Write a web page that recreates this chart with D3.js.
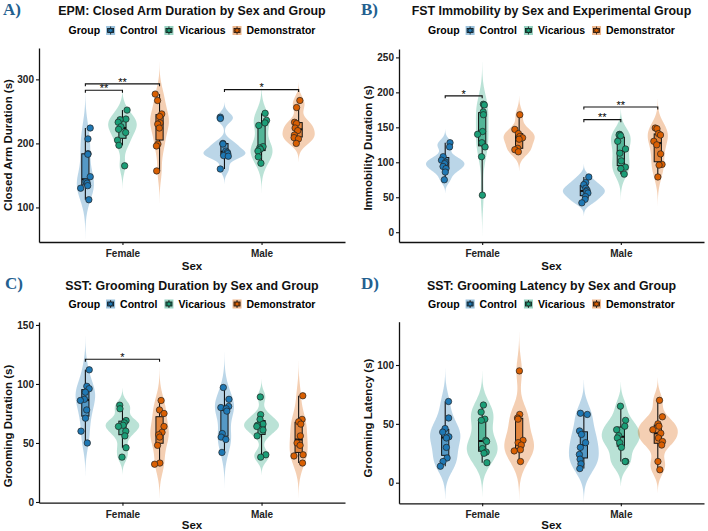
<!DOCTYPE html>
<html><head><meta charset="utf-8">
<script src="https://cdn.jsdelivr.net/npm/d3@7"></script>
<style>
  body { margin: 0; background: #fff; }
  text { font-family: "Liberation Sans", Arial, sans-serif; font-weight: bold; }
</style>
</head>
<body>
<svg id="fig" width="708" height="531"></svg>
<script>
const sexes = ["Female", "Male"];
const groups = ["Control", "Vicarious", "Demonstrator"];
const groupColors = ["#1f78b4", "#1b9e77", "#d95f02"];

// each list: Control, Vicarious, Demonstrator
// A) EPM closed arm duration (s)
const epmFemale = [
  [224, 207, 184, 183, 148, 140, 138, 134, 130, 112],
  [252, 238, 237, 233, 226, 222, 217, 205, 197, 165],
  [277, 267, 246, 242, 232, 230, 224, 199, 196, 157]
];
const epmMale = [
  [241, 239, 200, 199, 188, 186, 184, 181, 180, 160],
  [247, 236, 232, 228, 195, 193, 191, 188, 179, 169],
  [267, 256, 233, 231, 224, 220, 213, 209, 207, 200]
];
// B) FST immobility (s)
const fstFemale = [
  [128, 122, 108, 103, 100, 98, 94, 91, 86, 75],
  [183, 182, 172, 168, 144, 140, 128, 122, 108, 53],
  [168, 147, 141, 137, 135, 133, 120, 118, 115]
];
const fstMale = [
  [79, 71, 68, 63, 60, 58, 56, 51, 47, 42],
  [140, 139, 138, 130, 119, 113, 102, 93, 91, 83],
  [149, 148, 141, 139, 130, 125, 112, 97, 96, 79]
];
// C) SST grooming duration (s)
const groomDurFemale = [
  [112, 98, 96, 93, 87, 86, 78, 71, 60, 50],
  [82, 79, 69, 67, 65, 64, 60, 56, 46, 38],
  [86, 78, 75, 64, 59, 57, 55, 48, 33, 32]
];
const groomDurMale = [
  [97, 87, 81, 80, 79, 77, 58, 55, 53, 42],
  [89, 74, 70, 66, 65, 64, 61, 56, 40, 38],
  [90, 70, 68, 66, 56, 50, 48, 40, 39, 33]
];
// D) SST grooming latency (s)
const groomLatFemale = [
  [69, 55, 46, 43, 39, 38, 30, 21, 18, 14],
  [66, 60, 54, 53, 36, 35, 29, 26, 25, 17],
  [95, 58, 55, 54, 36, 34, 32, 28, 27, 18]
];
const groomLatMale = [
  [59, 58, 44, 41, 34, 30, 24, 20, 16, 12],
  [65, 53, 48, 45, 40, 38, 34, 30, 18, 18],
  [70, 56, 50, 48, 45, 42, 38, 35, 32, 18, 11]
];

// significance brackets: sex, group from, group to, height, label
const epmSig = [["Female", 0, 1, 283, "**"], ["Female", 0, 2, 293, "**"], ["Male", 0, 2, 284, "*"]];
const fstSig = [["Female", 0, 1, 195, "*"], ["Male", 0, 1, 161, "**"], ["Male", 0, 2, 179, "**"]];
const groomDurSig = [["Female", 0, 2, 121, "*"]];
const groomLatSig = [];

const panels = [
  { tag: "A)", title: "EPM: Closed Arm Duration by Sex and Group", ylab: "Closed Arm Duration (s)",
    data: [epmFemale, epmMale], sig: epmSig, yDomain: [46, 349], yTicks: [100, 200, 300],
    left: 39, right: 345, top: 48, bottom: 242, vw: 42,
    tagX: 3, tagY: 15, titleY: 15, legY: 34, tickY: 257, sexY: 270, ylabX: 12, ylabY: 145 },
  { tag: "B)", title: "FST Immobility by Sex and Experimental Group", ylab: "Immobility Duration (s)",
    data: [fstFemale, fstMale], sig: fstSig, yDomain: [-14, 262], yTicks: [0, 50, 100, 150, 200, 250],
    left: 399, right: 704, top: 49, bottom: 242, vw: 42,
    tagX: 361, tagY: 15, titleY: 15, legY: 34, tickY: 257, sexY: 270, ylabX: 372, ylabY: 148 },
  { tag: "C)", title: "SST: Grooming Duration by Sex and Group", ylab: "Grooming Duration (s)",
    data: [groomDurFemale, groomDurMale], sig: groomDurSig, yDomain: [-0.6, 152.5], yTicks: [0, 50, 100, 150],
    left: 39, right: 345, top: 322, bottom: 502.7, vw: 35,
    tagX: 5, tagY: 289, titleY: 290, legY: 307.5, tickY: 518, sexY: 529, ylabX: 12, ylabY: 426 },
  { tag: "D)", title: "SST: Grooming Latency by Sex and Group", ylab: "Grooming Latency (s)",
    data: [groomLatFemale, groomLatMale], sig: groomLatSig, yDomain: [-17.5, 136.8], yTicks: [0, 50, 100],
    left: 399, right: 704, top: 321.7, bottom: 503.3, vw: 40,
    tagX: 361, tagY: 289, titleY: 290, legY: 307.5, tickY: 518, sexY: 529, ylabX: 372, ylabY: 418 }
];

const svg = d3.select("#fig");
const jitter = d3.randomUniform.source(d3.randomLcg(0.31))(-1, 1);

// gaussian kernel density, bw.nrd0, tails run 3 bandwidths past the data
function kde(values) {
  const s = values.slice().sort(d3.ascending);
  const n = s.length;
  const sd = d3.deviation(s);
  const iqr = d3.quantileSorted(s, 0.75) - d3.quantileSorted(s, 0.25);
  const bw = 0.9 * (Math.min(sd, iqr / 1.34) || sd || 1) * Math.pow(n, -0.2);
  const lo = s[0] - 3 * bw, hi = s[n - 1] + 3 * bw;
  return d3.range(0, 161).map(i => {
    const v = lo + i * (hi - lo) / 160;
    return [v, d3.mean(s, d => Math.exp(-0.5 * ((v - d) / bw) ** 2)) / (bw * Math.sqrt(2 * Math.PI))];
  });
}

function boxStats(values) {
  const s = values.slice().sort(d3.ascending);
  const q1 = d3.quantileSorted(s, 0.25), med = d3.quantileSorted(s, 0.5), q3 = d3.quantileSorted(s, 0.75);
  const iqr = q3 - q1;
  const lo = d3.min(s.filter(v => v >= q1 - 1.5 * iqr));
  const hi = d3.max(s.filter(v => v <= q3 + 1.5 * iqr));
  return { q1, med, q3, lo, hi };
}

function drawLegend(p) {
  const lg = svg.append("g");
  let cx = 0;
  lg.append("text").attr("x", 0).attr("y", 0).style("font-size", "10.5px").text("Group");
  cx = lg.select("text").node().getComputedTextLength() + 6;
  groups.forEach((gname, i) => {
    const k = lg.append("g").attr("transform", `translate(${cx},-8)`);
    k.append("rect").attr("width", 9).attr("height", 9)
        .attr("fill", groupColors[i]).attr("fill-opacity", 0.45);
    k.append("rect").attr("x", 1.5).attr("y", 2.5).attr("width", 6).attr("height", 4)
        .attr("fill", groupColors[i]).attr("stroke", "#111").attr("stroke-width", 0.8);
    k.append("line").attr("x1", 4.5).attr("x2", 4.5).attr("y1", 0.5).attr("y2", 8.5)
        .attr("stroke", "#111").attr("stroke-width", 0.8);
    k.append("circle").attr("cx", 4.5).attr("cy", 4.5).attr("r", 2)
        .attr("fill", groupColors[i]).attr("stroke", "#111").attr("stroke-width", 0.6);
    cx += 14;
    const t = lg.append("text").attr("x", cx).attr("y", 0).style("font-size", "10.5px").text(gname);
    cx += t.node().getComputedTextLength() + 7;
  });
  const w = cx - 7;
  lg.attr("transform", `translate(${(p.left + p.right) / 2 - w / 2},${p.legY})`);
}

function drawPanel(p, idx) {
  const x = d3.scalePoint().domain(sexes).range([p.left, p.right]).padding(0.6);
  const y = d3.scaleLinear().domain(p.yDomain).range([p.bottom, p.top]);
  const dodge = x.step() * 0.8 / 3;
  const cx = (sex, gi) => x(sex) + (gi - 1) * dodge;

  const clipId = "clip" + idx;
  svg.append("clipPath").attr("id", clipId).append("rect")
      .attr("x", p.left).attr("y", p.top).attr("width", p.right - p.left).attr("height", p.bottom - p.top);
  const g = svg.append("g").attr("clip-path", `url(#${clipId})`);

  const dens = p.data.map(sexData => sexData.map(kde));
  const maxD = d3.max(dens.flat(), d => d3.max(d, e => e[1]));
  const w = d3.scaleLinear().domain([0, maxD]).range([0, p.vw / 2]);

  // violins
  sexes.forEach((sex, si) => {
    groups.forEach((gname, gi) => {
      const c = cx(sex, gi);
      g.append("path")
          .datum(dens[si][gi])
          .attr("fill", groupColors[gi])
          .attr("fill-opacity", 0.3)
          .attr("d", d3.area().curve(d3.curveBasis)
              .y(d => y(d[0])).x0(d => c - w(d[1])).x1(d => c + w(d[1])));
    });
  });

  // boxplots
  sexes.forEach((sex, si) => {
    groups.forEach((gname, gi) => {
      const c = cx(sex, gi);
      const b = boxStats(p.data[si][gi]);
      const bw = 3.6;
      g.append("line").attr("x1", c).attr("x2", c).attr("y1", y(b.hi)).attr("y2", y(b.q3))
          .attr("stroke", "#111").attr("stroke-width", 1.1);
      g.append("line").attr("x1", c).attr("x2", c).attr("y1", y(b.q1)).attr("y2", y(b.lo))
          .attr("stroke", "#111").attr("stroke-width", 1.1);
      g.append("rect").attr("x", c - bw).attr("width", bw * 2)
          .attr("y", y(b.q3)).attr("height", y(b.q1) - y(b.q3))
          .attr("fill", groupColors[gi]).attr("fill-opacity", 0.65)
          .attr("stroke", "#111").attr("stroke-width", 1);
      g.append("line").attr("x1", c - bw).attr("x2", c + bw).attr("y1", y(b.med)).attr("y2", y(b.med))
          .attr("stroke", "#111").attr("stroke-width", 2);
    });
  });

  // jittered points
  sexes.forEach((sex, si) => {
    groups.forEach((gname, gi) => {
      const c = cx(sex, gi);
      g.selectAll(null).data(p.data[si][gi]).join("circle")
          .attr("cx", () => c + jitter() * 5)
          .attr("cy", d => y(d))
          .attr("r", 3.2)
          .attr("fill", groupColors[gi])
          .attr("stroke", "#222").attr("stroke-width", 0.7);
    });
  });

  // significance brackets
  p.sig.forEach(([sex, ga, gb, h, lab]) => {
    const x1 = cx(sex, ga), x2 = cx(sex, gb), yy = y(h);
    svg.append("path")
        .attr("d", `M${x1},${yy + 2.5}V${yy}H${x2}V${yy + 2.5}`)
        .attr("fill", "none").attr("stroke", "#111").attr("stroke-width", 1.1);
    svg.append("text").attr("x", (x1 + x2) / 2).attr("y", yy + 1.8)
        .attr("text-anchor", "middle").style("font-size", "11px").style("font-weight", "normal")
        .text(lab);
  });

  // axes
  const ya = svg.append("g").attr("transform", `translate(${p.left},0)`)
      .call(d3.axisLeft(y).tickValues(p.yTicks).tickSize(3).tickSizeOuter(0).tickPadding(2));
  const xa = svg.append("g").attr("transform", `translate(0,${p.bottom})`)
      .call(d3.axisBottom(x).tickSize(3).tickSizeOuter(0).tickPadding(3));
  [ya, xa].forEach(a => {
    a.select(".domain").attr("stroke", "#111").attr("stroke-width", 1.3);
    a.selectAll(".tick line").attr("stroke", "#111").attr("stroke-width", 1.1);
    a.selectAll(".tick text").attr("fill", "#222").style("font-size", "10px")
        .style("font-family", "'Liberation Sans', Arial, sans-serif").style("font-weight", "bold");
  });
  xa.selectAll(".tick text").attr("dy", null).attr("y", p.tickY - p.bottom);

  // texts
  svg.append("text").attr("x", p.tagX).attr("y", p.tagY)
      .style("font-family", "'Liberation Serif', 'Times New Roman', serif")
      .style("font-size", "17px").attr("fill", "#23608f").text(p.tag);
  svg.append("text").attr("x", (p.left + p.right) / 2).attr("y", p.titleY)
      .attr("text-anchor", "middle").style("font-size", "12.4px").attr("fill", "#111").text(p.title);
  svg.append("text").attr("x", (p.left + p.right) / 2).attr("y", p.sexY)
      .attr("text-anchor", "middle").style("font-size", "11.5px").attr("fill", "#111").text("Sex");
  svg.append("text").attr("transform", `translate(${p.ylabX},${p.ylabY}) rotate(-90)`)
      .attr("text-anchor", "middle").style("font-size", "11.5px").attr("fill", "#111").text(p.ylab);

  drawLegend(p);
}

panels.forEach(drawPanel);
</script>
</body>
</html>
